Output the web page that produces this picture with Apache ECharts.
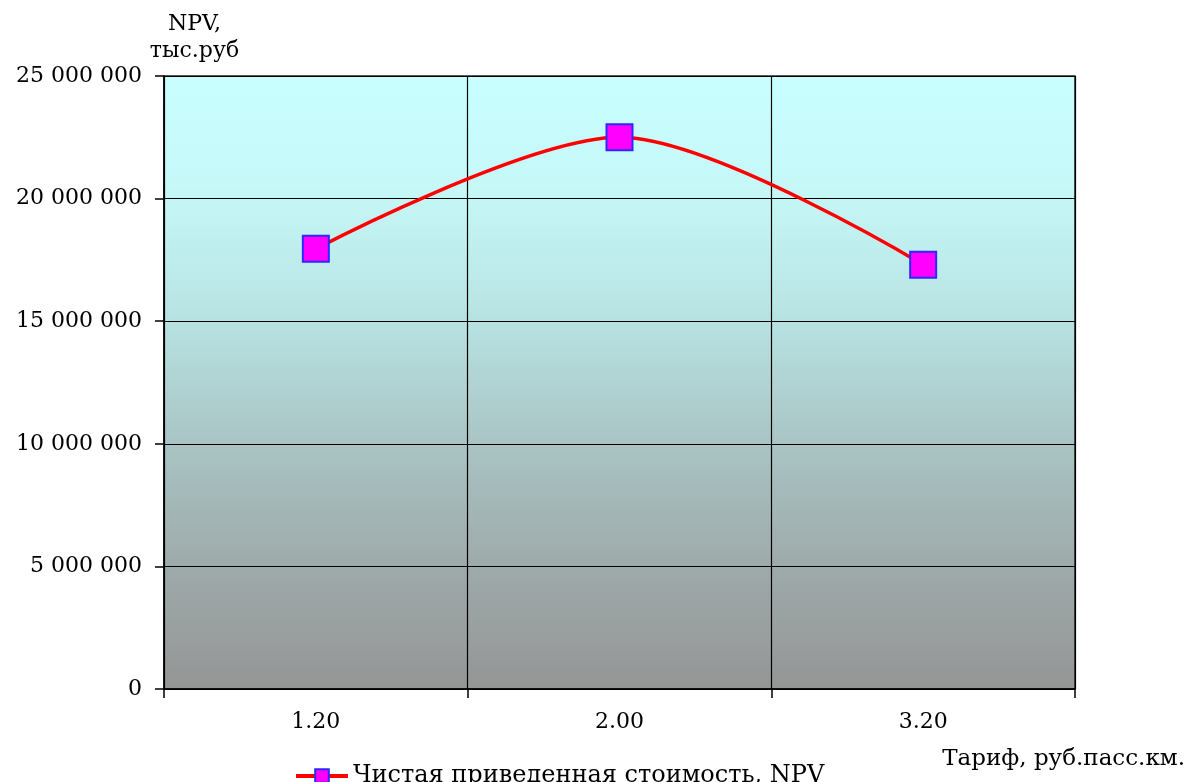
<!DOCTYPE html>
<html>
<head>
<meta charset="utf-8">
<script src="https://cdn.jsdelivr.net/npm/echarts@6/dist/echarts.min.js"></script>
<style>
html,body{margin:0;padding:0;background:#fff;}
#chart{width:1192px;height:782px;}
</style>
</head>
<body>
<div id="chart"></div>
<script>
const categories = ["1.20", "2.00", "3.20"];
const npvValues = [17950000, 22500000, 17300000];
const seriesName = "Чистая приведенная стоимость, NPV";
const yAxisName = "NPV,\nтыс.руб";
const xAxisName = "Тариф, руб.пасс.км.";

const font = "'DejaVu Serif', 'Liberation Serif', serif";
const fs = 22;
function fmt(v) {
  return String(Math.round(v)).replace(/\B(?=(\d{3})+(?!\d))/g, " ");
}

const chart = echarts.init(document.getElementById('chart'));
chart.setOption({
  backgroundColor: '#ffffff',
  animation: false,
  textStyle: { fontFamily: font, color: '#000' },
  grid: {
    left: 164, right: 117, top: 76, bottom: 93,
    show: true,
    borderColor: '#222',
    borderWidth: 1.5,
    backgroundColor: new echarts.graphic.LinearGradient(0, 0, 0, 1, [
      { offset: 0, color: '#c9ffff' },
      { offset: 0.18, color: '#c6f8f8' },
      { offset: 0.4, color: '#b8e2e2' },
      { offset: 0.6, color: '#a9c4c4' },
      { offset: 0.8, color: '#9eaaaa' },
      { offset: 1, color: '#959595' }
    ])
  },
  legend: {
    bottom: -11,
    left: 289,
    data: [seriesName],
    itemWidth: 52,
    itemHeight: 17,
    itemGap: 4,
    lineStyle: { width: 4 },
    textStyle: { fontFamily: font, fontSize: 24, color: '#000' }
  },
  graphic: [{
    type: 'text',
    right: 7,
    top: 748,
    style: { text: xAxisName, fontFamily: font, fontSize: 23, fill: '#000' }
  }],
  xAxis: {
    type: 'category',
    data: categories,
    boundaryGap: true,
    axisLine: { show: true, onZero: false, lineStyle: { color: '#000', width: 1.5 } },
    axisTick: { show: true, length: 9, inside: false, lineStyle: { color: '#000', width: 1.5 } },
    axisLabel: { fontFamily: font, fontSize: fs, color: '#000', margin: 22 },
    splitLine: { show: true, lineStyle: { color: '#000', width: 1.2 } }
  },
  yAxis: {
    type: 'value',
    min: 0, max: 25000000, interval: 5000000,
    name: yAxisName,
    nameLocation: 'end',
    nameGap: 4,
    nameTextStyle: {
      fontFamily: font, fontSize: fs, color: '#000',
      align: 'center', lineHeight: 27,
      padding: [0, 0, 0, 61]
    },
    axisLine: { show: true, lineStyle: { color: '#000', width: 1.5 } },
    axisTick: { show: true, length: 9, lineStyle: { color: '#000', width: 1.5 } },
    axisLabel: { fontFamily: font, fontSize: fs, color: '#000', margin: 22, formatter: fmt },
    splitLine: { show: true, lineStyle: { color: '#000', width: 1.2 } }
  },
  series: [{
    name: seriesName,
    type: 'line',
    data: npvValues,
    smooth: 0.3,
    symbol: 'rect',
    symbolSize: 26,
    lineStyle: { color: '#ff0000', width: 3.5 },
    itemStyle: { color: '#ff00ff', borderColor: '#2a2aff', borderWidth: 2 }
  }]
});
</script>
</body>
</html>
